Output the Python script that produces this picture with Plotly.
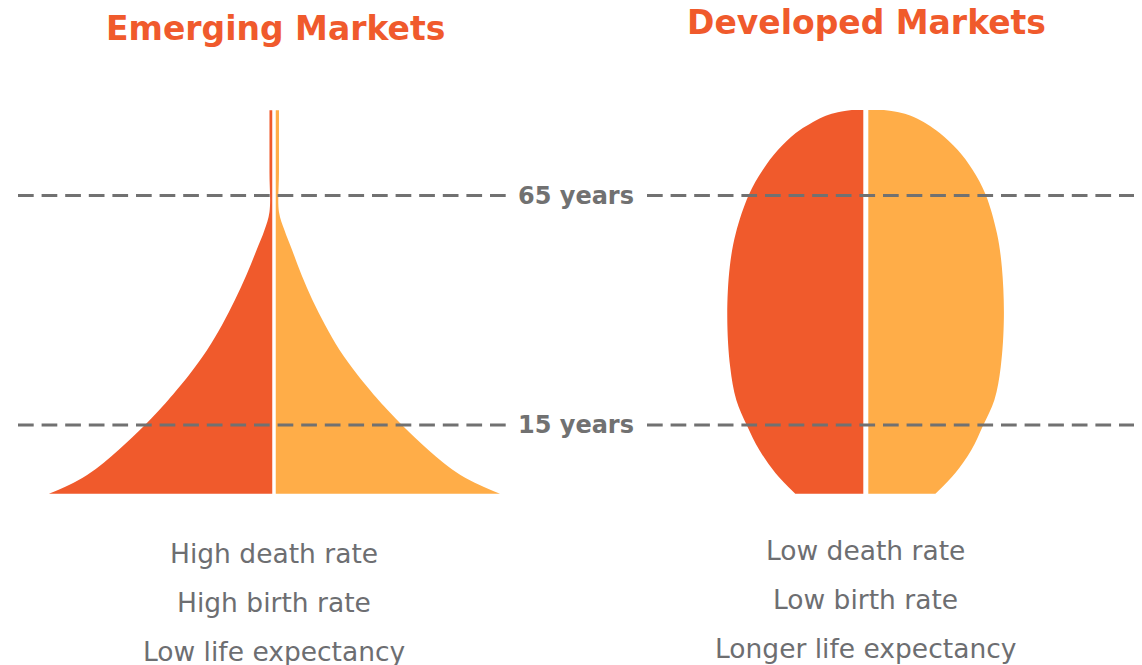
import plotly.graph_objects as go

# ---------------- data ----------------
# Emerging markets population pyramid (age in years, half-width on a % of population scale)
EM_AGE = [0, 1.93, 4.11, 6.83, 9.55, 12.28, 15.0, 17.72, 20.45, 25.9, 31.34, 36.79, 42.23,
          47.68, 53.12, 57.48, 61.4, 70.0, 83.6]
EM_MALE = [9.96, 9.07, 8.27, 7.52, 6.88, 6.28, 5.71, 5.18, 4.68, 3.76, 2.96, 2.30, 1.73,
           1.22, 0.77, 0.42, 0.2, 0.2, 0.2]
EM_FEMALE = [10.0, 9.10, 8.25, 7.48, 6.83, 6.23, 5.66, 5.13, 4.62, 3.70, 2.90, 2.26, 1.70,
             1.22, 0.80, 0.46, 0.22, 0.22, 0.22]

# Developed markets population shape
DM_AGE = [0, 4.54, 9.55, 15.0, 20.45, 27.64, 38.53, 49.42, 56.83, 65.11, 70.56, 74.92,
          78.62, 80.58, 82.11, 82.98, 83.63]
DM_MALE = [3.12, 4.00, 4.71, 5.27, 5.73, 6.00, 6.13, 6.02, 5.75, 5.18, 4.56, 3.89,
           3.10, 2.48, 1.90, 1.37, 0.62]
DM_FEMALE = [3.08, 3.96, 4.67, 5.20, 5.69, 5.97, 6.11, 6.02, 5.80, 5.31, 4.73, 4.07,
             3.27, 2.70, 2.12, 1.59, 0.80]

AGE_LINES = [65, 15]
AGE_LABELS = ["65 years", "15 years"]

TITLES = ["Emerging Markets", "Developed Markets"]
EM_TRAITS = ["High death rate", "High birth rate", "Low life expectancy"]
DM_TRAITS = ["Low death rate", "Low birth rate", "Longer life expectancy"]

# ---------------- style ----------------
W, H = 1142, 665          # window size
OFF = 8                   # default page body margin
FW, FH = W - OFF, H - OFF  # figure size
RED = "#F05A2C"
GOLD = "#FFAD48"
GREY = "#717171"
TXT = "#6D6E71"
PX = 22.6           # pixels per x unit
PY = 4.59           # pixels per year
AGE0_PX = 493.85 - OFF  # pixel row of age 0 (from figure top)


def px(xp):
    return (xp - OFF) / FW


def py(yp):
    return 1 - (yp - OFF) / FH


fig = go.Figure()


def add_half(xs, ages, color, axis, sign, smooth):
    fig.add_trace(go.Scatter(
        x=[sign * v for v in xs], y=ages, xaxis=axis, yaxis="y",
        mode="lines", line=dict(color=color, width=0, shape="spline", smoothing=smooth),
        fill="tozerox", fillcolor=color, hoverinfo="skip", showlegend=False))


add_half(EM_MALE, EM_AGE, RED, "x", -1, 1.0)
add_half(EM_FEMALE, EM_AGE, GOLD, "x", 1, 1.0)
add_half(DM_MALE, DM_AGE, RED, "x2", -1, 1.0)
add_half(DM_FEMALE, DM_AGE, GOLD, "x2", 1, 1.0)

# white gaps between halves
fig.add_trace(go.Scatter(x=[0, 0], y=[min(EM_AGE) - 0.3, max(EM_AGE) + 0.3], xaxis="x", yaxis="y",
                         mode="lines", line=dict(color="white", width=3.5),
                         hoverinfo="skip", showlegend=False))
fig.add_trace(go.Scatter(x=[0, 0], y=[min(DM_AGE) - 0.3, max(DM_AGE) + 0.3], xaxis="x2", yaxis="y",
                         mode="lines", line=dict(color="white", width=5),
                         hoverinfo="skip", showlegend=False))

# dashed age lines (interrupted by the label) + labels
DASH = "15.7px,7.9px"
for age, lab in zip(AGE_LINES, AGE_LABELS):
    for x0, x1 in [(18, 506), (647, W)]:
        fig.add_shape(type="line", xref="paper", yref="y", x0=px(x0), x1=px(x1), y0=age, y1=age,
                      line=dict(color=GREY, width=3, dash=DASH), layer="above")
    fig.add_annotation(x=px(576), y=age, xref="paper", yref="y", text=f"<b>{lab}</b>",
                       showarrow=False, borderpad=0,
                       font=dict(family="DejaVu Sans", size=24, color=GREY))

# titles
for t, cx, cy in zip(TITLES, [275, 866], [28, 23]):
    fig.add_annotation(x=px(cx), y=py(cy), xref="paper", yref="paper", text=f"<b>{t}</b>",
                       showarrow=False, xanchor="center", yanchor="middle", borderpad=0,
                       font=dict(family="DejaVu Sans", size=33, color=RED))

# traits
for traits, cx, cy0 in [(EM_TRAITS, 274, 553), (DM_TRAITS, 865, 550)]:
    for i, t in enumerate(traits):
        fig.add_annotation(x=px(cx), y=py(cy0 + 49 * i), xref="paper", yref="paper", text=t,
                           showarrow=False, xanchor="center", yanchor="middle", borderpad=0,
                           font=dict(family="DejaVu Sans", size=26.5, color=TXT))

split = 571 - OFF
em_c, dm_c = 274 - OFF, 865.8 - OFF
fig.update_layout(
    width=FW, height=FH, margin=dict(l=0, r=0, t=0, b=0),
    paper_bgcolor="white", plot_bgcolor="white",
    xaxis=dict(domain=[0, split / FW], range=[-em_c / PX, (split - em_c) / PX], visible=False,
               fixedrange=True),
    xaxis2=dict(domain=[split / FW, 1], range=[-(dm_c - split) / PX, (FW - dm_c) / PX], visible=False,
                anchor="y", fixedrange=True),
    yaxis=dict(domain=[0, 1], range=[(AGE0_PX - FH) / PY, AGE0_PX / PY], visible=False,
               anchor="x", fixedrange=True),
    showlegend=False,
)

fig.write_html("out.html")
